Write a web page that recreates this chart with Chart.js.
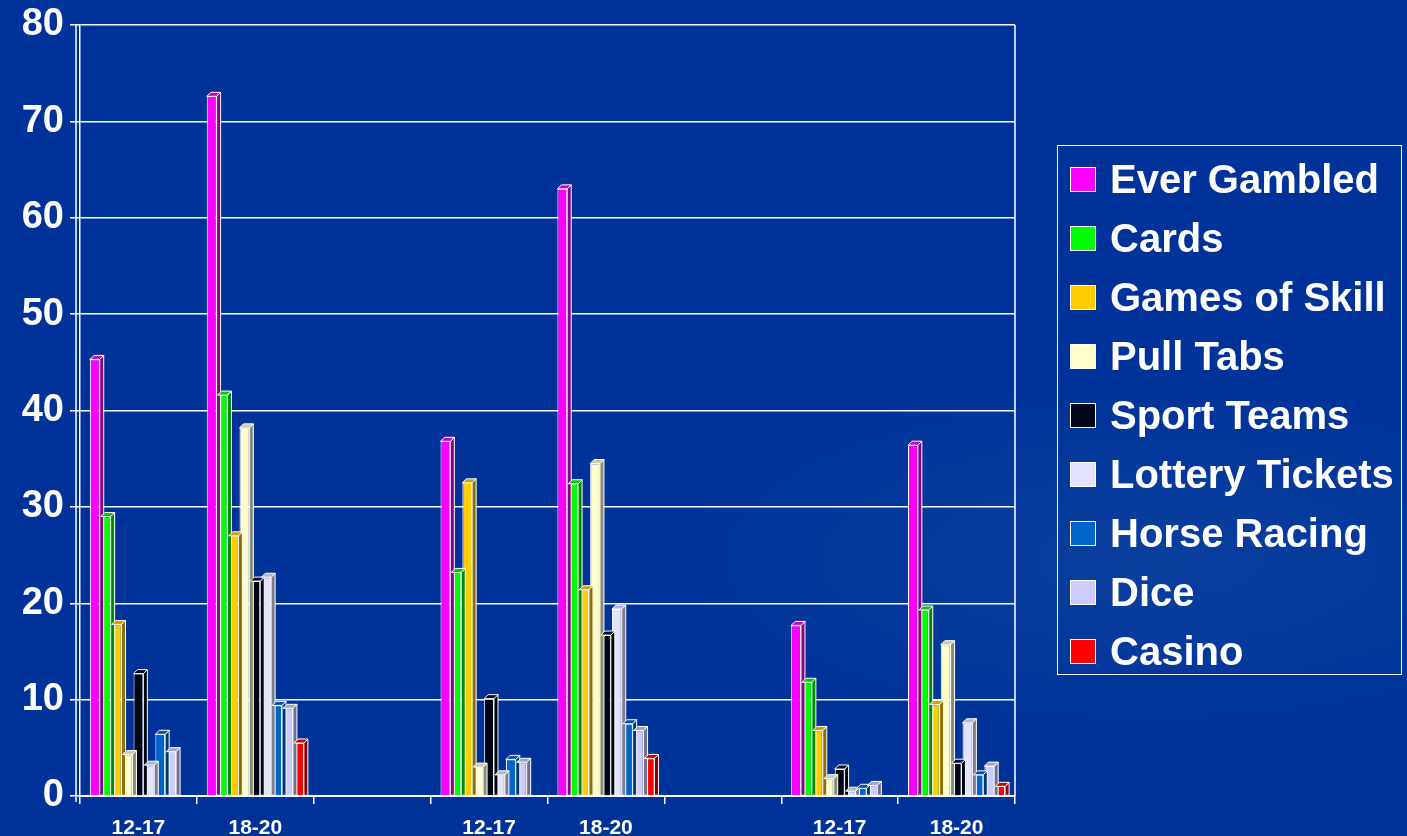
<!DOCTYPE html>
<html>
<head>
<meta charset="utf-8">
<script src="https://cdn.jsdelivr.net/npm/chart.js@4"></script>
<style>
    html, body { margin: 0; padding: 0; }
    body {
        width: 1407px; height: 836px; overflow: hidden;
        background: radial-gradient(ellipse 700px 260px at 1150px 560px, #0a3f9e 0%, #003399 70%), #003399;
        font-family: Arial, "Liberation Sans", sans-serif;
    }
    #wrap { position: relative; width: 1407px; height: 836px; }
    #legend {
        position: absolute; left: 1057px; top: 145px;
        width: 343px; height: 528px;
        border: 1.5px solid #ffffff;
    }
    .item {
        position: absolute; left: 12px; height: 44px;
        display: flex; align-items: center;
        color: #ffffff; font-size: 40px; font-weight: bold; white-space: nowrap;
    }
    .swatch {
        width: 26px; height: 25px; margin-right: 14px;
        border: 1.5px solid #ffffff; box-sizing: border-box;
    }
</style>
</head>
<body>
<div id="wrap">
    <canvas id="gambleChart" width="1407" height="836"></canvas>
    <div id="legend"></div>
</div>
<script>
// 年龄分组（三组调查，每组两个年龄段，中间空一列）
const groups = ['12-17', '18-20', '', '12-17', '18-20', '', '12-17', '18-20'];
const yTicks = [0, 10, 20, 30, 40, 50, 60, 70, 80];

const everGambled = [45.3, 72.6, null, 36.8, 63.0, null, 17.7, 36.4];
const cards       = [29.0, 41.6, null, 23.2, 32.4, null, 11.8, 19.3];
const gamesSkill  = [17.8, 27.0, null, 32.5, 21.4, null,  6.8,  9.5];
const pullTabs    = [ 4.3, 38.2, null,  3.0, 34.5, null,  1.8, 15.7];
const sportTeams  = [12.7, 22.3, null, 10.1, 16.7, null,  2.8,  3.4];
const lottery     = [ 3.2, 22.7, null,  2.2, 19.4, null,  0.5,  7.6];
const horseRacing = [ 6.4,  9.4, null,  3.8,  7.5, null,  0.8,  2.2];
const dice        = [ 4.6,  9.1, null,  3.5,  6.8, null,  1.1,  3.1];
const casino      = [ 0,    5.5, null,  0,    3.9, null,  0,    1.0];

const FONT = 'Arial, "Liberation Sans", sans-serif';

function shade(hex, f) {
    const n = parseInt(hex.slice(1), 16);
    const r = Math.round(((n >> 16) & 255) * f);
    const g = Math.round(((n >> 8) & 255) * f);
    const b = Math.round((n & 255) * f);
    return `rgb(${r},${g},${b})`;
}

// 伪 3D 柱体：右侧面和顶面
const bar3d = {
    id: 'bar3d',
    afterDatasetsDraw(chart) {
        const ctx = chart.ctx;
        const d = 4;
        chart.data.datasets.forEach((ds, i) => {
            const meta = chart.getDatasetMeta(i);
            meta.data.forEach((bar, j) => {
                if (!ds.data[j]) return;
                const { x, y, base, width } = bar.getProps(['x', 'y', 'base', 'width']);
                const l = x - width / 2, r = x + width / 2;
                ctx.save();
                ctx.lineWidth = 1;
                ctx.strokeStyle = '#ffffff';
                ctx.fillStyle = shade(ds.backgroundColor, 0.55);
                ctx.beginPath();
                ctx.moveTo(r, y); ctx.lineTo(r + d, y - d); ctx.lineTo(r + d, base); ctx.lineTo(r, base);
                ctx.closePath(); ctx.fill(); ctx.stroke();
                ctx.fillStyle = shade(ds.backgroundColor, 0.8);
                ctx.beginPath();
                ctx.moveTo(l, y); ctx.lineTo(l + d, y - d); ctx.lineTo(r + d, y - d); ctx.lineTo(r, y);
                ctx.closePath(); ctx.fill(); ctx.stroke();
                ctx.restore();
            });
        });
    }
};

// 绘图区右边框和左侧双线
const frame = {
    id: 'frame',
    afterDraw(chart) {
        const ctx = chart.ctx;
        const a = chart.chartArea;
        ctx.save();
        ctx.strokeStyle = '#ffffff';
        ctx.lineWidth = 1.5;
        ctx.beginPath();
        ctx.moveTo(a.right, a.top); ctx.lineTo(a.right, a.bottom);
        ctx.moveTo(a.left - 4, a.top); ctx.lineTo(a.left - 4, a.bottom + 6);
        ctx.stroke();
        ctx.restore();
    }
};

const seriesDefs = [
    { label: 'Ever Gambled',    data: everGambled, backgroundColor: '#ff00ff' },
    { label: 'Cards',           data: cards,       backgroundColor: '#00ff00' },
    { label: 'Games of Skill',  data: gamesSkill,  backgroundColor: '#ffcc00' },
    { label: 'Pull Tabs',       data: pullTabs,    backgroundColor: '#ffffcc' },
    { label: 'Sport Teams',     data: sportTeams,  backgroundColor: '#000818' },
    { label: 'Lottery Tickets', data: lottery,     backgroundColor: '#e3e3ff' },
    { label: 'Horse Racing',    data: horseRacing, backgroundColor: '#0066cc' },
    { label: 'Dice',            data: dice,        backgroundColor: '#ccccff' },
    { label: 'Casino',          data: casino,      backgroundColor: '#ff0000' }
];

// 图例（带外框，固定位置）
const legendEl = document.getElementById('legend');
seriesDefs.forEach((s, i) => {
    const item = document.createElement('div');
    item.className = 'item';
    item.style.top = (11 + i * 59) + 'px';
    const sw = document.createElement('span');
    sw.className = 'swatch';
    sw.style.background = s.backgroundColor;
    const tx = document.createElement('span');
    tx.textContent = s.label;
    item.appendChild(sw);
    item.appendChild(tx);
    legendEl.appendChild(item);
});

const ctx = document.getElementById('gambleChart').getContext('2d');
new Chart(ctx, {
    type: 'bar',
    data: {
        labels: groups,
        datasets: seriesDefs.map(ds => Object.assign({}, ds, {
            borderColor: '#ffffff',
            borderWidth: 1,
            categoryPercentage: 0.84,
            barPercentage: 0.9
        }))
    },
    options: {
        responsive: false,
        animation: false,
        layout: { padding: { top: 0, right: 392, left: 4, bottom: 0 } },
        plugins: {
            legend: { display: false },
            tooltip: { enabled: false }
        },
        scales: {
            x: {
                afterFit(axis) { axis.height = 40; },
                grid: {
                    display: true,
                    drawOnChartArea: false,
                    color: '#ffffff',
                    tickLength: 8,
                    lineWidth: 1.5
                },
                border: { color: '#ffffff', width: 2 },
                ticks: {
                    color: '#ffffff',
                    font: { family: FONT, size: 21, weight: 'bold' },
                    padding: 12
                }
            },
            y: {
                min: 0,
                max: 80,
                afterBuildTicks(axis) {
                    axis.ticks = yTicks.map(v => ({ value: v }));
                },
                afterFit(axis) { axis.width = 76; },
                grid: {
                    color: '#ffffff',
                    lineWidth: 1.5,
                    tickLength: 10
                },
                border: { color: '#ffffff', width: 1.5 },
                ticks: {
                    color: '#ffffff',
                    font: { family: FONT, size: 38, weight: 'bold', lineHeight: 1.0 },
                    padding: 6
                }
            }
        }
    },
    plugins: [bar3d, frame]
});
</script>
</body>
</html>
